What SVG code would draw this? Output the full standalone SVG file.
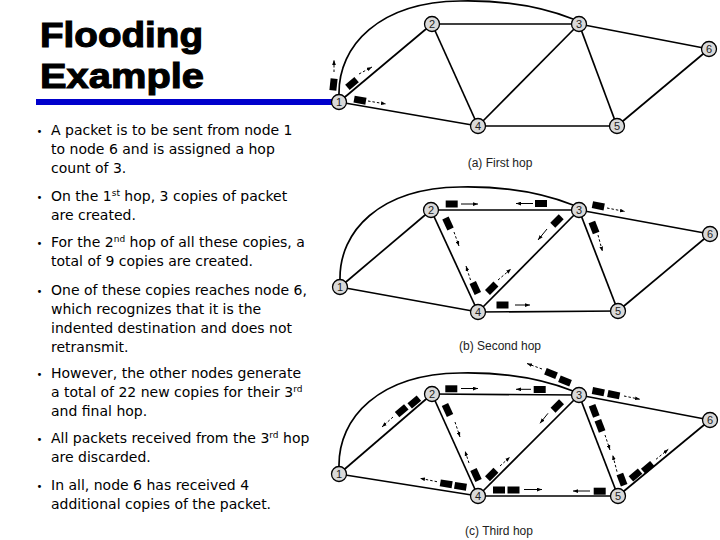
<svg xmlns="http://www.w3.org/2000/svg" width="720" height="540" viewBox="0 0 720 540">
<defs>
<marker id="ah" viewBox="0 0 8 6" refX="8" refY="3" markerWidth="5" markerHeight="4" orient="auto" markerUnits="userSpaceOnUse"><path d="M0,0 L8,3 L0,6 z" fill="#000"/></marker>
<style>
.title{font-family:"Liberation Sans",Arial,sans-serif;font-weight:bold;font-size:35px;fill:#000;stroke:#000;stroke-width:1.1}
.body{font-family:"DejaVu Sans",Verdana,sans-serif;font-size:14px;fill:#000}
.sup{font-size:9px}
.bul{font-family:"DejaVu Sans",sans-serif;font-size:10px;fill:#000}
.edge{stroke:#000;stroke-width:1.7;fill:none}
.nd circle{fill:#d9d9d9;stroke:#000;stroke-width:1.3}
.nd text{font-family:"Liberation Sans",Arial,sans-serif;font-size:11px;fill:#222;text-anchor:middle}
.pk{fill:#000}
.ar{stroke:#000;stroke-width:1;fill:none;marker-end:url(#ah)}
.ds{stroke-dasharray:2.5 2}
.cap{font-family:"Liberation Sans",Arial,sans-serif;font-size:12px;fill:#222;text-anchor:middle}
</style>
</defs>
<rect width="720" height="540" fill="#fff"/>

<!-- Title -->
<g id="title">
<text class="title" x="40" y="46.5" textLength="163" lengthAdjust="spacingAndGlyphs">Flooding</text>
<text class="title" x="40" y="88.3" textLength="164" lengthAdjust="spacingAndGlyphs">Example</text>
<rect x="36" y="99" width="296" height="6" fill="#0000cc"/>
</g>

<!-- Bullets -->
<g id="bullets">
<text class="bul" x="36.5" y="134.5">•</text>
<text class="body" x="51" y="135">A packet is to be sent from node 1</text>
<text class="body" x="51" y="154">to node 6 and is assigned a hop</text>
<text class="body" x="51" y="173">count of 3.</text>
<text class="bul" x="36.5" y="200.5">•</text>
<text class="body" x="51" y="201">On the 1<tspan class="sup" dy="-5">st</tspan><tspan dy="5"> hop, 3 copies of packet</tspan></text>
<text class="body" x="51" y="220">are created.</text>
<text class="bul" x="36.5" y="246.5">•</text>
<text class="body" x="51" y="247">For the 2<tspan class="sup" dy="-5">nd</tspan><tspan dy="5"> hop of all these copies, a</tspan></text>
<text class="body" x="51" y="266">total of 9 copies are created.</text>
<text class="bul" x="36.5" y="294.5">•</text>
<text class="body" x="51" y="295">One of these copies reaches node 6,</text>
<text class="body" x="51" y="314">which recognizes that it is the</text>
<text class="body" x="51" y="333">indented destination and does not</text>
<text class="body" x="51" y="352">retransmit.</text>
<text class="bul" x="36.5" y="377.5">•</text>
<text class="body" x="51" y="378">However, the other nodes generate</text>
<text class="body" x="51" y="397">a total of 22 new copies for their 3<tspan class="sup" dy="-5">rd</tspan></text>
<text class="body" x="51" y="416">and final hop.</text>
<text class="bul" x="36.5" y="442.5">•</text>
<text class="body" x="51" y="443">All packets received from the 3<tspan class="sup" dy="-5">rd</tspan><tspan dy="5"> hop</tspan></text>
<text class="body" x="51" y="462">are discarded.</text>
<text class="bul" x="36.5" y="489.5">•</text>
<text class="body" x="51" y="490">In all, node 6 has received 4</text>
<text class="body" x="51" y="509">additional copies of the packet.</text>
</g>

<!-- Diagram (a) -->
<g id="diagram-a">
<g id="a-connectors">
<path class="edge" d="M339,95 C338,45 380,2 460,1 C510,0 545,8 573,19"/>
<line class="edge" x1="339" y1="102" x2="432" y2="24"/>
<line class="edge" x1="339" y1="102" x2="478" y2="126"/>
<line class="edge" x1="432" y1="24" x2="579" y2="24"/>
<line class="edge" x1="432" y1="24" x2="478" y2="126"/>
<line class="edge" x1="579" y1="24" x2="478" y2="126"/>
<line class="edge" x1="579" y1="24" x2="617" y2="126"/>
<line class="edge" x1="579" y1="24" x2="709" y2="49"/>
<line class="edge" x1="478" y1="126" x2="617" y2="126"/>
<line class="edge" x1="617" y1="126" x2="709" y2="49"/>
</g>
<g id="a-n1" class="nd"><circle cx="339" cy="102" r="7.5"/><text x="339" y="106">1</text></g>
<g id="a-n2" class="nd"><circle cx="432" cy="24" r="7.5"/><text x="432" y="28">2</text></g>
<g id="a-n3" class="nd"><circle cx="579" cy="24" r="7.5"/><text x="579" y="28">3</text></g>
<g id="a-n4" class="nd"><circle cx="478" cy="126" r="7.5"/><text x="478" y="130">4</text></g>
<g id="a-n5" class="nd"><circle cx="617" cy="126" r="7.5"/><text x="617" y="130">5</text></g>
<g id="a-n6" class="nd"><circle cx="709" cy="49" r="7.5"/><text x="709" y="53">6</text></g>
<g id="a-packets">
<rect class="pk" x="-6" y="-3.5" width="12" height="7" transform="translate(333.5,84.5) rotate(-84)"/>
<rect class="pk" x="-6" y="-3.5" width="12" height="7" transform="translate(352,83.5) rotate(-40)"/>
<rect class="pk" x="-6" y="-3.5" width="12" height="7" transform="translate(360,100.2) rotate(10)"/>
<line class="ar ds" x1="334" y1="72" x2="334" y2="60"/>
<line class="ar ds" x1="359" y1="74" x2="372" y2="67"/>
<line class="ar ds" x1="368" y1="101" x2="386" y2="104"/>
</g>
<text class="cap" x="500" y="167">(a) First hop</text>
</g>

<!-- Diagram (b) -->
<g id="diagram-b">
<g id="b-connectors">
<path class="edge" d="M340,280 C339,231 380,188 460,187 C510,186 545,194 573,205"/>
<line class="edge" x1="340" y1="287" x2="431" y2="210"/>
<line class="edge" x1="340" y1="287" x2="478" y2="312"/>
<line class="edge" x1="431" y1="210" x2="579" y2="210"/>
<line class="edge" x1="431" y1="210" x2="478" y2="312"/>
<line class="edge" x1="579" y1="210" x2="478" y2="312"/>
<line class="edge" x1="579" y1="210" x2="618" y2="311"/>
<line class="edge" x1="579" y1="210" x2="710" y2="234"/>
<line class="edge" x1="478" y1="312" x2="618" y2="311"/>
<line class="edge" x1="618" y1="311" x2="710" y2="234"/>
</g>
<g id="b-n1" class="nd"><circle cx="340" cy="287" r="7.5"/><text x="340" y="291">1</text></g>
<g id="b-n2" class="nd"><circle cx="431" cy="210" r="7.5"/><text x="431" y="214">2</text></g>
<g id="b-n3" class="nd"><circle cx="579" cy="210" r="7.5"/><text x="579" y="214">3</text></g>
<g id="b-n4" class="nd"><circle cx="478" cy="312" r="7.5"/><text x="478" y="316">4</text></g>
<g id="b-n5" class="nd"><circle cx="618" cy="311" r="7.5"/><text x="618" y="315">5</text></g>
<g id="b-n6" class="nd"><circle cx="710" cy="234" r="7.5"/><text x="710" y="238">6</text></g>
<g id="b-packets">
<rect class="pk" x="-6" y="-3.5" width="12" height="7" transform="translate(451.7,204)"/>
<rect class="pk" x="-6" y="-3.5" width="12" height="7" transform="translate(541,203.5)"/>
<rect class="pk" x="-6" y="-3.5" width="12" height="7" transform="translate(448,223.5) rotate(65)"/>
<rect class="pk" x="-6" y="-3.5" width="12" height="7" transform="translate(475.3,288) rotate(65)"/>
<rect class="pk" x="-6" y="-3.5" width="12" height="7" transform="translate(491.7,288.3) rotate(-45)"/>
<rect class="pk" x="-6" y="-3.5" width="12" height="7" transform="translate(502.5,305)"/>
<rect class="pk" x="-6" y="-3.5" width="12" height="7" transform="translate(557,221) rotate(-45)"/>
<rect class="pk" x="-6" y="-3.5" width="12" height="7" transform="translate(598.3,205.8) rotate(11)"/>
<rect class="pk" x="-6" y="-3.5" width="12" height="7" transform="translate(594,227.5) rotate(69)"/>
<line class="ar" x1="461" y1="204" x2="478" y2="204"/>
<line class="ar" x1="533" y1="203.5" x2="516" y2="203.5"/>
<line class="ar ds" x1="454" y1="232" x2="459" y2="246"/>
<line class="ar ds" x1="470.5" y1="280" x2="466" y2="266"/>
<line class="ar ds" x1="498" y1="280" x2="511" y2="269"/>
<line class="ar" x1="515" y1="305" x2="530" y2="305"/>
<line class="ar" x1="547" y1="229" x2="538" y2="240"/>
<line class="ar ds" x1="607" y1="208" x2="625" y2="211.5"/>
<line class="ar ds" x1="598" y1="235" x2="602.5" y2="251.5"/>
</g>
<text class="cap" x="500" y="350">(b) Second hop</text>
</g>

<!-- Diagram (c) -->
<g id="diagram-c">
<g id="c-connectors">
<path class="edge" d="M339,467 C338,417 380,374 460,373 C510,372 545,380 573,391"/>
<line class="edge" x1="339" y1="474" x2="432" y2="394"/>
<line class="edge" x1="339" y1="474" x2="478" y2="496"/>
<line class="edge" x1="432" y1="394" x2="579" y2="395"/>
<line class="edge" x1="432" y1="394" x2="478" y2="496"/>
<line class="edge" x1="579" y1="395" x2="478" y2="496"/>
<line class="edge" x1="579" y1="395" x2="618" y2="496"/>
<line class="edge" x1="579" y1="395" x2="710" y2="420"/>
<line class="edge" x1="478" y1="496" x2="618" y2="496"/>
<line class="edge" x1="618" y1="496" x2="710" y2="420"/>
</g>
<g id="c-n1" class="nd"><circle cx="339" cy="474" r="7.5"/><text x="339" y="478">1</text></g>
<g id="c-n2" class="nd"><circle cx="432" cy="394" r="7.5"/><text x="432" y="398">2</text></g>
<g id="c-n3" class="nd"><circle cx="579" cy="395" r="7.5"/><text x="579" y="399">3</text></g>
<g id="c-n4" class="nd"><circle cx="478" cy="496" r="7.5"/><text x="478" y="500">4</text></g>
<g id="c-n5" class="nd"><circle cx="618" cy="496" r="7.5"/><text x="618" y="500">5</text></g>
<g id="c-n6" class="nd"><circle cx="710" cy="420" r="7.5"/><text x="710" y="424">6</text></g>
<g id="c-packets">
<rect class="pk" x="-6" y="-3.5" width="12" height="7" transform="translate(451.3,388.8)"/>
<rect class="pk" x="-6" y="-3.5" width="12" height="7" transform="translate(539.7,389.5)"/>
<rect class="pk" x="-6" y="-3.5" width="12" height="7" transform="translate(401.7,410.7) rotate(-40)"/>
<rect class="pk" x="-6" y="-3.5" width="12" height="7" transform="translate(414.3,402) rotate(-40)"/>
<rect class="pk" x="-6" y="-3.5" width="12" height="7" transform="translate(447.5,410) rotate(65)"/>
<rect class="pk" x="-6" y="-3.5" width="12" height="7" transform="translate(476,475) rotate(65)"/>
<rect class="pk" x="-6" y="-3.5" width="12" height="7" transform="translate(491.7,474.5) rotate(-45)"/>
<rect class="pk" x="-6" y="-3.5" width="12" height="7" transform="translate(446.2,483.8) rotate(9)"/>
<rect class="pk" x="-6" y="-3.5" width="12" height="7" transform="translate(460.5,486.3) rotate(9)"/>
<rect class="pk" x="-6" y="-3.5" width="12" height="7" transform="translate(499,490)"/>
<rect class="pk" x="-6" y="-3.5" width="12" height="7" transform="translate(513.5,490)"/>
<rect class="pk" x="-6" y="-3.5" width="12" height="7" transform="translate(551,373.5) rotate(22)"/>
<rect class="pk" x="-6" y="-3.5" width="12" height="7" transform="translate(565,381) rotate(22)"/>
<rect class="pk" x="-6" y="-3.5" width="12" height="7" transform="translate(598.3,391.7) rotate(11)"/>
<rect class="pk" x="-6" y="-3.5" width="12" height="7" transform="translate(613.7,394.7) rotate(11)"/>
<rect class="pk" x="-6" y="-3.5" width="12" height="7" transform="translate(557.3,406) rotate(-45)"/>
<rect class="pk" x="-6" y="-3.5" width="12" height="7" transform="translate(594.2,410.8) rotate(69)"/>
<rect class="pk" x="-6" y="-3.5" width="12" height="7" transform="translate(600,425.8) rotate(69)"/>
<rect class="pk" x="-6" y="-3.5" width="12" height="7" transform="translate(622,479.7) rotate(69)"/>
<rect class="pk" x="-6" y="-3.5" width="12" height="7" transform="translate(635.5,475) rotate(-40)"/>
<rect class="pk" x="-6" y="-3.5" width="12" height="7" transform="translate(647.8,467.5) rotate(-40)"/>
<rect class="pk" x="-6" y="-3.5" width="12" height="7" transform="translate(599.7,491.2)"/>
<line class="ar" x1="461" y1="388.5" x2="478" y2="388.5"/>
<line class="ar" x1="531" y1="389.3" x2="516" y2="389.3"/>
<line class="ar ds" x1="393" y1="417" x2="382" y2="427"/>
<line class="ar ds" x1="455" y1="422" x2="460" y2="437"/>
<line class="ar ds" x1="469" y1="463" x2="465" y2="451"/>
<line class="ar ds" x1="500" y1="466" x2="510" y2="457"/>
<line class="ar ds" x1="437" y1="481.7" x2="420" y2="478.3"/>
<line class="ar" x1="524" y1="489.5" x2="542" y2="489.5"/>
<line class="ar ds" x1="542" y1="369" x2="527" y2="363.5"/>
<line class="ar ds" x1="624" y1="396" x2="640" y2="399.3"/>
<line class="ar" x1="548" y1="413.3" x2="540" y2="423.3"/>
<line class="ar ds" x1="605" y1="435" x2="610" y2="450"/>
<line class="ar ds" x1="617" y1="471.7" x2="612.7" y2="455"/>
<line class="ar ds" x1="656" y1="459.3" x2="668.3" y2="449.3"/>
<line class="ar" x1="590" y1="491" x2="573" y2="491"/>
</g>
<text class="cap" x="499" y="535">(c) Third hop</text>
</g>
</svg>
